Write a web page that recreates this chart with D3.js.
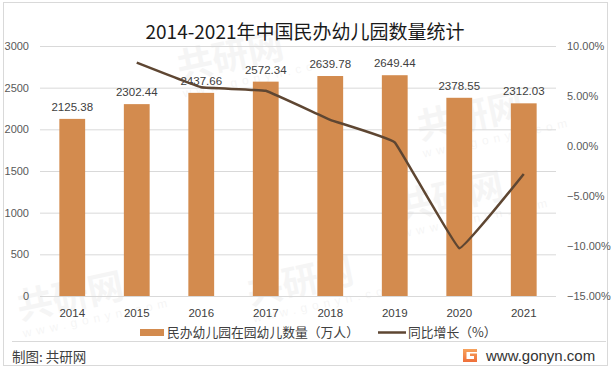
<!DOCTYPE html>
<html>
<head>
<meta charset="utf-8">
<script src="https://cdn.jsdelivr.net/npm/d3@7"></script>
<style>
  body { margin: 0; background: #fff; }
  text { font-family: "Liberation Sans", Arial, sans-serif; }
  .cjk { font-family: "Noto Sans CJK SC", sans-serif; }
</style>
</head>
<body>
<script>
const years = ["2014","2015","2016","2017","2018","2019","2020","2021"];
const kids = [2125.38, 2302.44, 2437.66, 2572.34, 2639.78, 2649.44, 2378.55, 2312.03];
const growth = [null, 8.33, 5.87, 5.52, 2.62, 0.37, -10.22, -2.80];
const leftTicks = [0, 500, 1000, 1500, 2000, 2500, 3000];
const rightTicks = [-15, -10, -5, 0, 5, 10];

const W = 614, H = 369;
const svg = d3.select("body").append("svg").attr("width", W).attr("height", H);

// frame
svg.append("rect").attr("x", 3.5).attr("y", 2.5).attr("width", 604).attr("height", 363)
  .attr("fill", "#fff").attr("stroke", "#d9d9d9");

// faint watermarks, kept inside the frame
const marks = [[180, 80], [400, 220], [20, 320], [250, 305], [420, 140]];
marks.forEach(function (m) {
  const g = svg.append("g").attr("transform", "translate(" + m[0] + "," + m[1] + ") rotate(-12)")
    .attr("opacity", 0.035);
  g.append("text").attr("class", "cjk").attr("font-size", 36).attr("font-weight", "bold").text("共研网");
  g.append("text").attr("y", 18).attr("font-size", 12).attr("letter-spacing", 5).text("www.gonyn.com");
});

const x = d3.scaleBand().domain(years).range([40, 556]).paddingInner(0.6).paddingOuter(0.3);
const yL = d3.scaleLinear().domain([0, 3000]).range([296, 46]);
const yR = d3.scaleLinear().domain([-15, 10]).range([296, 46]);

// gridlines
svg.append("g").selectAll("line").data(leftTicks).enter().append("line")
  .attr("x1", 40).attr("x2", 556)
  .attr("y1", d => yL(d) + 0.5).attr("y2", d => yL(d) + 0.5)
  .attr("stroke", "#d9d9d9").attr("stroke-width", 1);

// left axis labels
svg.append("g").selectAll("text").data(leftTicks).enter().append("text")
  .attr("x", 29).attr("y", d => yL(d) + 4)
  .attr("text-anchor", "end").attr("font-size", 11).attr("fill", "#595959")
  .text(d => d);

// right axis labels
svg.append("g").selectAll("text").data(rightTicks).enter().append("text")
  .attr("x", 567).attr("y", d => yR(d) + 4)
  .attr("font-size", 11).attr("fill", "#595959")
  .text(d => d3.format(".2f")(d) + "%");

// bars
svg.append("g").selectAll("rect").data(kids).enter().append("rect")
  .attr("x", (d, i) => x(years[i]))
  .attr("width", x.bandwidth())
  .attr("y", d => yL(d))
  .attr("height", d => yL(0) - yL(d))
  .attr("fill", "#d38b4e");

// bar labels
svg.append("g").selectAll("text").data(kids).enter().append("text")
  .attr("x", (d, i) => x(years[i]) + x.bandwidth() / 2)
  .attr("y", d => yL(d) - 8)
  .attr("text-anchor", "middle").attr("font-size", 11.5).attr("fill", "#404040")
  .text(d => d3.format(".2f")(d));

// x labels
svg.append("g").selectAll("text").data(years).enter().append("text")
  .attr("x", d => x(d) + x.bandwidth() / 2).attr("y", 317)
  .attr("text-anchor", "middle").attr("font-size", 11.5).attr("fill", "#404040")
  .text(d => d);

// growth line (only slightly smoothed, like the source)
const pts = growth.map((g, i) => [x(years[i]) + x.bandwidth() / 2, g]).filter(p => p[1] !== null);
const line = d3.line().x(p => p[0]).y(p => yR(p[1])).curve(d3.curveCardinal.tension(0.8));
svg.append("path").datum(pts).attr("d", line)
  .attr("fill", "none").attr("stroke", "#5e4632").attr("stroke-width", 2.5);

// title
svg.append("text").attr("class", "cjk").attr("x", 305).attr("y", 39)
  .attr("text-anchor", "middle").attr("font-size", 19).attr("fill", "#1a1a1a")
  .text("2014-2021年中国民办幼儿园数量统计");

// legend
svg.append("rect").attr("x", 140).attr("y", 329).attr("width", 24).attr("height", 7).attr("fill", "#d38b4e");
svg.append("text").attr("class", "cjk").attr("x", 167).attr("y", 337)
  .attr("font-size", 12.8).attr("fill", "#404040").text("民办幼儿园在园幼儿数量（万人）");
svg.append("line").attr("x1", 378).attr("x2", 406).attr("y1", 332.5).attr("y2", 332.5)
  .attr("stroke", "#5e4632").attr("stroke-width", 2.5);
svg.append("text").attr("class", "cjk").attr("x", 408).attr("y", 337)
  .attr("font-size", 12.8).attr("fill", "#404040").text("同比增长（%）");

// footer
svg.append("line").attr("x1", 12).attr("x2", 606).attr("y1", 341.5).attr("y2", 341.5)
  .attr("stroke", "#d9d9d9");
svg.append("text").attr("class", "cjk").attr("x", 12).attr("y", 362)
  .attr("font-size", 13.5).attr("fill", "#404040").text("制图: 共研网");

const grad = svg.append("defs").append("linearGradient").attr("id", "lg")
  .attr("x1", 0).attr("y1", 0).attr("x2", 0).attr("y2", 1);
grad.append("stop").attr("offset", 0).attr("stop-color", "#f7a35c");
grad.append("stop").attr("offset", 1).attr("stop-color", "#ef6f3a");
svg.append("path")
  .attr("d", "M463,349 H477 V352 H466.5 V359 H474 V356 H470 V353.5 H477 V362 H463 Z")
  .attr("fill", "url(#lg)");
svg.append("text").attr("x", 486).attr("y", 361)
  .attr("font-size", 15).attr("fill", "#333").text("www.gonyn.com");
</script>
</body>
</html>
